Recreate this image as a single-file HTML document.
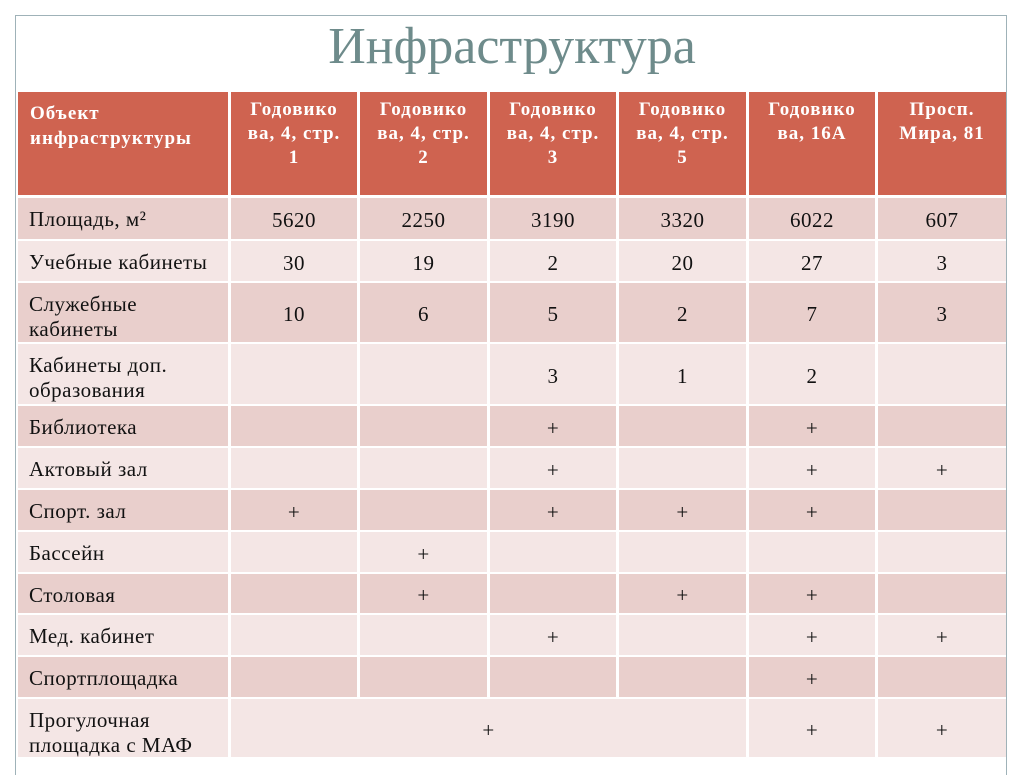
<!DOCTYPE html>
<html><head><meta charset="utf-8">
<style>
body{margin:0;width:1024px;height:767px;background:#fff;position:relative;overflow:hidden;font-family:"Liberation Serif","DejaVu Serif",serif;}
.frame{position:absolute;left:15px;top:15px;width:992px;height:760px;border:1px solid #9fb2b8;box-sizing:border-box;border-bottom:none}
.title{position:absolute;left:0;width:1024px;top:17px;text-align:center;font-size:52px;color:#6e8b8b;}
.c{position:absolute;box-sizing:border-box;font-size:21px;letter-spacing:0.5px;color:#111;white-space:nowrap}
.h{background:#cf6350;color:#fff;font-weight:bold;font-size:19px;letter-spacing:1px;line-height:24px;text-align:center;padding-top:6px}
.h.l{text-align:left;padding-left:12px}
.l{padding:9px 0 0 11px;line-height:25px}
.v{display:flex;align-items:center;justify-content:center;padding-top:4px}
</style></head><body>
<div class="frame"></div>
<div class="title">Инфраструктура</div>
<div id="t"></div>
<script>
const xs=[[18,228],[231,357],[360,487],[490,616],[619,746],[749,875],[878,1006]];
const ys=[[198,239],[241,281],[283,342],[344,404],[406,446],[448,488],[490,530],[532,572],[574,613],[615,655],[657,697],[699,757]];
const headers=["Объект<br>инфраструктуры","Годовико<br>ва, 4, стр.<br>1","Годовико<br>ва, 4, стр.<br>2","Годовико<br>ва, 4, стр.<br>3","Годовико<br>ва, 4, стр.<br>5","Годовико<br>ва, 16А","Просп.<br>Мира, 81"];
const labels=["Площадь, м²","Учебные кабинеты","Служебные<br>кабинеты","Кабинеты доп.<br>образования","Библиотека","Актовый зал","Спорт. зал","Бассейн","Столовая","Мед. кабинет","Спортплощадка","Прогулочная<br>площадка с МАФ"];
const area=["5620","2250","3190","3320","6022","607"];
const classrooms=["30","19","2","20","27","3"];
const offices=["10","6","5","2","7","3"];
const extra=["","","3","1","2",""];
const library=["","","+","","+",""];
const hall=["","","+","","+","+"];
const gym=["+","","+","+","+",""];
const pool=["","+","","","",""];
const canteen=["","+","","+","+",""];
const med=["","","+","","+","+"];
const sportsground=["","","","","+",""];
const rows=[area,classrooms,offices,extra,library,hall,gym,pool,canteen,med,sportsground];
const t=document.getElementById('t');
function cell(x0,x1,y0,y1,cls,html,bg){const d=document.createElement('div');d.className='c '+cls;d.style.left=x0+'px';d.style.width=(x1-x0)+'px';d.style.top=y0+'px';d.style.height=(y1-y0)+'px';if(bg)d.style.background=bg;d.innerHTML=html;t.appendChild(d);return d;}
headers.forEach((h,i)=>{const d=cell(xs[i][0],xs[i][1],92,195,'h'+(i==0?' l':''),h);

});
ys.forEach((y,r)=>{const bg=r%2==0?'#e9cfcc':'#f4e6e5';
const d=cell(xs[0][0],xs[0][1],y[0],y[1],'l',labels[r],bg);


if(r<11){rows[r].forEach((v,c)=>{const e=cell(xs[c+1][0],xs[c+1][1],y[0],y[1],'v',v,bg);

});}
else{const a=cell(xs[1][0],xs[4][1],y[0],y[1],'v','+',bg);


[5,6].forEach(c=>{const e=cell(xs[c][0],xs[c][1],y[0],y[1],'v','+',bg);

});}
});
</script>
</body></html>
